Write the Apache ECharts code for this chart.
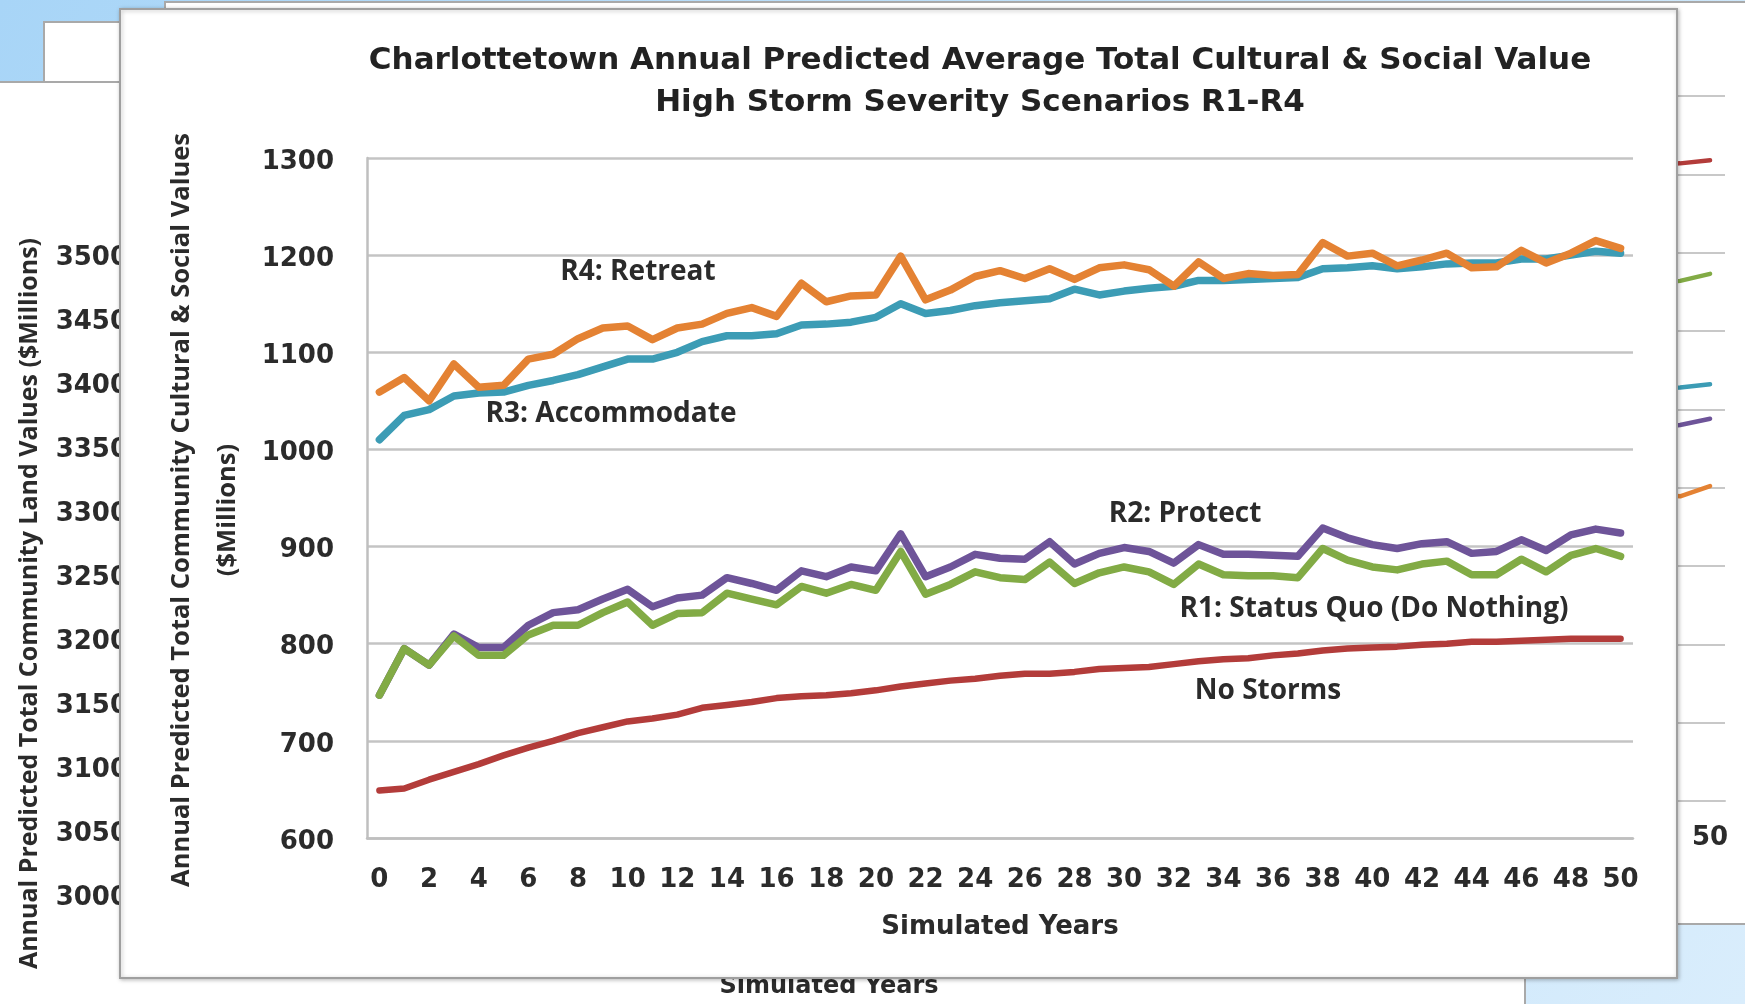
<!DOCTYPE html>
<html>
<head>
<meta charset="utf-8">
<script src="https://cdn.jsdelivr.net/npm/echarts@6/dist/echarts.min.js"></script>
<style>
  html, body { margin: 0; padding: 0; background: #fff; }
  #chart { width: 1745px; height: 1004px; }
</style>
</head>
<body>
<div id="chart"></div>
<script>
// simulated years 0..50
var years = ['0','1','2','3','4','5','6','7','8','9','10','11','12','13','14','15','16','17','18','19','20',
  '21','22','23','24','25','26','27','28','29','30','31','32','33','34','35','36','37','38','39','40',
  '41','42','43','44','45','46','47','48','49','50'];

var yTicks = [600, 1300, 100];       // min, max, step ($Millions)
var bgLandTicks = [3000, 3500, 50];  // background chart, land values

// values ($Millions)
var r4Retreat = [1059, 1074, 1050, 1088, 1064, 1066, 1093, 1098, 1114, 1125, 1127, 1113, 1125, 1129, 1140, 1146, 1137,
  1171, 1152, 1158, 1159, 1199, 1154, 1164, 1178, 1184, 1176, 1186, 1175, 1187, 1190, 1185, 1168, 1193, 1176,
  1181, 1179, 1180, 1213, 1199, 1202, 1189, 1195, 1202, 1187, 1188, 1205, 1192, 1202, 1215, 1207];
var r3Accommodate = [1010, 1035, 1041, 1055, 1058, 1059, 1066, 1071, 1077, 1085, 1093, 1093, 1100, 1111, 1117, 1117, 1119,
  1128, 1129, 1131, 1136, 1150, 1140, 1143, 1148, 1151, 1153, 1155, 1165, 1159, 1163, 1166, 1168, 1174, 1174,
  1175, 1176, 1177, 1186, 1187, 1189, 1186, 1188, 1191, 1192, 1192, 1196, 1196, 1200, 1204, 1202];
var r2Protect = [747, 795, 778, 810, 796, 796, 819, 832, 835, 846, 856, 838, 847, 850, 868, 862, 855,
  875, 869, 879, 875, 913, 869, 879, 892, 888, 887, 905, 882, 893, 899, 895, 883, 902, 892,
  892, 891, 890, 919, 909, 902, 898, 903, 905, 893, 895, 907, 896, 912, 918, 914];
var r1StatusQuo = [747, 795, 778, 808, 788, 788, 809, 819, 819, 832, 843, 819, 831, 832, 852, 846, 840,
  859, 852, 861, 855, 895, 851, 861, 874, 868, 866, 884, 862, 873, 879, 874, 861, 882, 871,
  870, 870, 868, 898, 886, 879, 876, 882, 885, 871, 871, 887, 874, 891, 898, 890];
var noStorms = [649, 651, 660, 668, 676, 685, 693, 700, 708, 714, 720, 723, 727, 734, 737, 740, 744,
  746, 747, 749, 752, 756, 759, 762, 764, 767, 769, 769, 771, 774, 775, 776, 779, 782, 784,
  785, 788, 790, 793, 795, 796, 797, 799, 800, 802, 802, 803, 804, 805, 805, 805];

// the chart behind: only its last few points peek out at the right edge
var bgRedTail = [[48, 812], [49, 814], [50, 818]];
var bgGreenTail = [[48, 660], [49, 664], [50, 673]];
var bgTealTail = [[48, 527], [49, 528], [50, 532]];
var bgPurpleTail = [[48, 476], [49, 480], [50, 488]];
var bgOrangeTail = [[48, 392], [49, 389], [50, 402]];

var COLORS = { red: '#b33c3a', teal: '#3c9cb5', orange: '#e48233', purple: '#6e5499', green: '#82ab45' };
var WIDE = 'DejaVu Sans';
var SOFT = 'Open Sans';
var INK = '#2b2b2b';

function plain(v) { return String(v); }   // no thousands separator

function mainLine(name, data, color, width) {
  return {
    name: name, type: 'line', data: data, xAxisIndex: 0, yAxisIndex: 0, zlevel: 2,
    showSymbol: false, silent: true,
    lineStyle: { color: color, width: width, join: 'round', cap: 'round' }
  };
}
function tailLine(data, color) {
  return {
    type: 'line', data: data, xAxisIndex: 2, yAxisIndex: 2, zlevel: 0,
    showSymbol: false, silent: true,
    lineStyle: { color: color, width: 4.5, join: 'round', cap: 'round' }
  };
}
function note(text, x, y) {
  return {
    type: 'text', zlevel: 2, z: 50, x: x, y: y,
    style: { text: text, fill: INK, font: 'bold 28px "' + SOFT + '"', align: 'center', verticalAlign: 'middle' }
  };
}

var chart = echarts.init(document.getElementById('chart'), null, { renderer: 'canvas' });

chart.setOption({
  animation: false,
  backgroundColor: '#ffffff',
  title: {
    text: 'Charlottetown Annual Predicted Average Total Cultural & Social Value\nHigh Storm Severity Scenarios R1-R4',
    left: 975, top: 35, textAlign: 'center', zlevel: 2,
    textStyle: { fontFamily: WIDE, fontWeight: 'bold', fontSize: 31, lineHeight: 42, color: '#222' }
  },
  grid: [
    { left: 367, right: 112, top: 158, bottom: 166 },   // main chart
    { left: 136, right: 223, top: 258, bottom: 90 },    // background chart, left
    { left: 200, right: 20, top: 96, bottom: 203 }      // background chart, right
  ],
  xAxis: [
    {
      type: 'category', gridIndex: 0, data: years, boundaryGap: true, zlevel: 2,
      axisLine: { lineStyle: { color: '#bfbfbf', width: 2.5 } },
      axisTick: { show: false },
      axisLabel: { interval: 1, margin: 29, color: INK, fontFamily: WIDE, fontWeight: 'bold', fontSize: 26 },
      name: 'Simulated Years', nameLocation: 'middle', nameGap: 76,
      nameTextStyle: { color: INK, fontFamily: WIDE, fontWeight: 'bold', fontSize: 26 }
    },
    {
      type: 'category', gridIndex: 1, data: years, zlevel: 0,
      axisLine: { show: false }, axisTick: { show: false }, axisLabel: { show: false },
      name: 'Simulated Years', nameLocation: 'middle', nameGap: 77,
      nameTextStyle: { color: INK, fontFamily: WIDE, fontWeight: 'bold', fontSize: 24 }
    },
    {
      type: 'category', gridIndex: 2, data: years, boundaryGap: true, zlevel: 0,
      axisLine: { lineStyle: { color: '#c8c8c8', width: 2 } },
      axisTick: { show: false },
      axisLabel: { interval: 1, margin: 24, color: INK, fontFamily: WIDE, fontWeight: 'bold', fontSize: 26 }
    }
  ],
  yAxis: [
    {
      type: 'value', gridIndex: 0, min: yTicks[0], max: yTicks[1], interval: yTicks[2], zlevel: 2,
      axisLine: { show: true, lineStyle: { color: '#bfbfbf', width: 2.5 } },
      axisTick: { show: false },
      splitLine: { lineStyle: { color: '#c4c4c4', width: 2.5 } },
      axisLabel: { margin: 33, verticalAlign: 'top', lineHeight: 8, formatter: plain,
        color: INK, fontFamily: WIDE, fontWeight: 'bold', fontSize: 26 },
      name: 'Annual Predicted Total Community Cultural & Social Values\n($Millions)',
      nameLocation: 'middle', nameGap: 110,
      nameTextStyle: { color: INK, fontFamily: SOFT, fontWeight: 'bold', fontSize: 25.5, lineHeight: 46, padding: [0, 24, 0, 0] }
    },
    {
      type: 'value', gridIndex: 1, min: bgLandTicks[0], max: bgLandTicks[1], interval: bgLandTicks[2], zlevel: 0,
      axisLine: { show: false }, axisTick: { show: false }, splitLine: { show: false },
      axisLabel: { margin: 8, formatter: plain, color: INK, fontFamily: WIDE, fontWeight: 'bold', fontSize: 26 },
      name: 'Annual Predicted Total Community Land Values ($Millions)',
      nameLocation: 'middle', nameGap: 94,
      nameTextStyle: { color: INK, fontFamily: SOFT, fontWeight: 'bold', fontSize: 25, padding: [0, 51, 0, 0] }
    },
    {
      type: 'value', gridIndex: 2, min: 0, max: 900, interval: 100, zlevel: 0,
      axisLine: { show: false }, axisTick: { show: false }, axisLabel: { show: false },
      splitLine: { lineStyle: { color: '#c8c8c8', width: 2 } }
    }
  ],
  series: [
    tailLine(bgRedTail, COLORS.red),
    tailLine(bgGreenTail, COLORS.green),
    tailLine(bgTealTail, COLORS.teal),
    tailLine(bgPurpleTail, COLORS.purple),
    tailLine(bgOrangeTail, COLORS.orange),
    mainLine('No Storms', noStorms, COLORS.red, 6.5),
    mainLine('R3: Accommodate', r3Accommodate, COLORS.teal, 7.5),
    mainLine('R4: Retreat', r4Retreat, COLORS.orange, 7.5),
    mainLine('R2: Protect', r2Protect, COLORS.purple, 7.5),
    mainLine('R1: Status Quo (Do Nothing)', r1StatusQuo, COLORS.green, 7.5)
  ],
  graphic: { elements: [
    // slide behind the chart
    { type: 'rect', zlevel: 0, z: -20, shape: { x: 0, y: 0, width: 1745, height: 1004 },
      style: { fill: new echarts.graphic.LinearGradient(0, 0, 1, 1, [
        { offset: 0, color: '#a8d5f7' }, { offset: 1, color: '#d9edfc' }]) } },
    { type: 'rect', zlevel: 0, z: -19, shape: { x: 44, y: 22, width: 400, height: 200 },
      style: { fill: '#fff', stroke: '#a9a9a9', lineWidth: 2 } },
    { type: 'rect', zlevel: 0, z: -18, shape: { x: 165, y: 2, width: 1700, height: 922 },
      style: { fill: '#fff', stroke: '#a9a9a9', lineWidth: 2 } },
    { type: 'rect', zlevel: 0, z: -17, shape: { x: -4, y: 82, width: 1529, height: 1000 },
      style: { fill: '#fff', stroke: '#a9a9a9', lineWidth: 2 } },
    // the white chart panel in front
    { type: 'rect', zlevel: 1, z: 0, shape: { x: 120, y: 9, width: 1557, height: 969 },
      style: { fill: '#fff', stroke: '#9f9f9f', lineWidth: 2,
        shadowBlur: 4, shadowColor: 'rgba(0,0,0,0.25)', shadowOffsetX: 1, shadowOffsetY: 1 } },
    note('R4: Retreat', 638, 272),
    note('R3: Accommodate', 611, 414),
    note('R2: Protect', 1185, 514),
    note('R1: Status Quo (Do Nothing)', 1374, 609),
    note('No Storms', 1268, 691)
  ] }
});
</script>
</body>
</html>
